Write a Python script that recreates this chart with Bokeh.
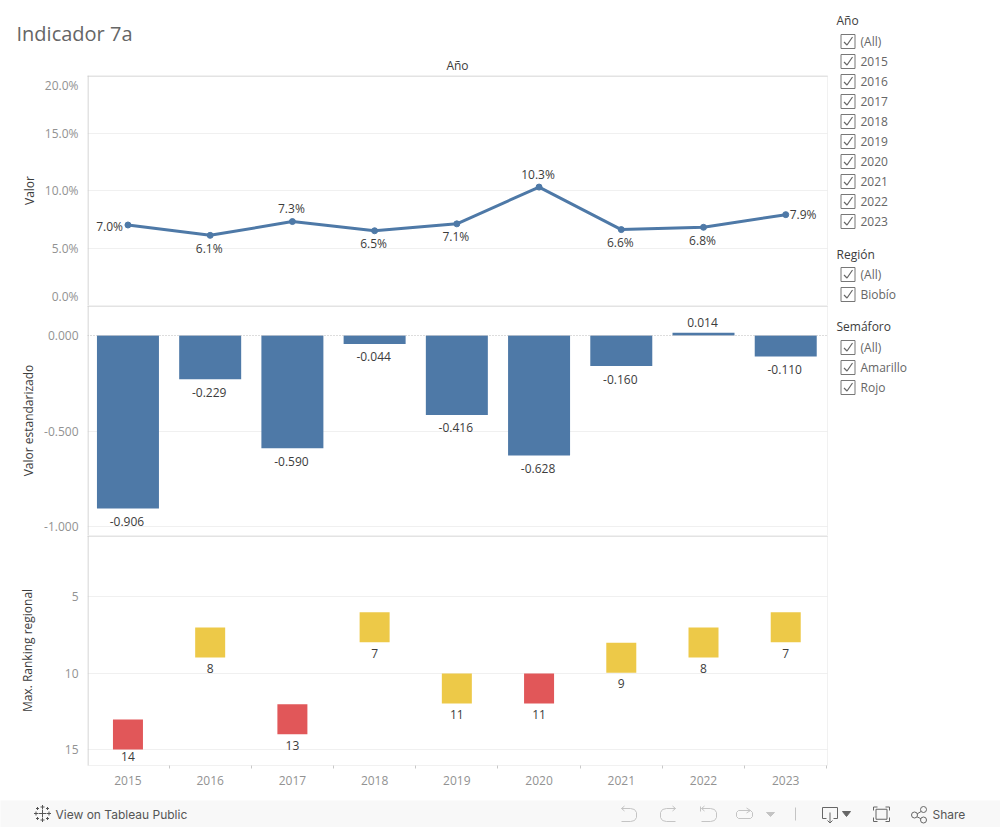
from bokeh.plotting import figure
from bokeh.layouts import column, row
from bokeh.models import (Range1d, FixedTicker, BoxAnnotation, Span, ColumnDataSource)
from bokeh.core.properties import value
from bokeh.embed import file_html
from bokeh.resources import INLINE

FONT = "Open Sans"
years = [2015, 2016, 2017, 2018, 2019, 2020, 2021, 2022, 2023]
valor = [7.0, 6.1, 7.3, 6.5, 7.1, 10.3, 6.6, 6.8, 7.9]
valor_label_side = ["left", "below", "above", "below", "below", "above", "below", "below", "right"]
estandarizado = [-0.906, -0.229, -0.590, -0.044, -0.416, -0.628, -0.160, 0.014, -0.110]
ranking = [14, 8, 13, 7, 11, 11, 9, 8, 7]
semaforo = ["Rojo", "Amarillo", "Rojo", "Amarillo", "Amarillo", "Rojo", "Amarillo", "Amarillo", "Amarillo"]
filters = [("Año", ["(All)", "2015", "2016", "2017", "2018", "2019", "2020", "2021", "2022", "2023"]),
           ("Región", ["(All)", "Biobío"]),
           ("Semáforo", ["(All)", "Amarillo", "Rojo"])]

BLUE, YELLOW, RED = "#4e79a7", "#edc948", "#e15759"
AXIS, GRID, TICK, INK = "#c8c8c8", "#f0f0f0", "#929292", "#3c3c3c"
FS = "12px"
x_range = Range1d(2014.508, 2023.508)


def panel(height, y_range, ticks, grid_ticks, label, standoff, bottom=0, fmt=None):
    p = figure(width=828, height=height, x_range=x_range, y_range=y_range,
               output_backend="svg", toolbar_location=None, x_axis_location="below" if bottom else None,
               min_border_left=87, min_border_right=1, min_border_top=0, min_border_bottom=bottom,
               background_fill_color="white", border_fill_color="white", outline_line_color=None)
    p.xgrid.visible = False
    p.ygrid.ticker = FixedTicker(ticks=grid_ticks)
    p.ygrid.grid_line_color = GRID
    ax = p.yaxis[0]
    ax.ticker = FixedTicker(ticks=ticks)
    ax.major_tick_line_color = None
    ax.minor_tick_line_color = None
    ax.axis_line_color = None
    ax.major_label_text_color = TICK
    ax.major_label_text_font = FONT
    ax.major_label_text_font_size = FS
    ax.major_label_standoff = 3
    ax.axis_label = label
    ax.axis_label_text_color = INK
    ax.axis_label_text_font = FONT
    ax.axis_label_text_font_size = "12px"
    ax.axis_label_text_font_style = "normal"
    ax.axis_label_standoff = standoff
    if fmt:
        ax.major_label_overrides = fmt
    return p


def box(p, left, right, top, bottom):
    p.add_layout(BoxAnnotation(left=left, right=right, top=top, bottom=bottom, left_units="canvas",
                               right_units="canvas", top_units="canvas", bottom_units="canvas", fill_color=AXIS,
                               fill_alpha=1, line_color=None, level="overlay"))


def frame_rules(p, last=False):
    box(p, 12, 828, 0, 1)
    if last:
        box(p, 12, 828, 230, 231)
    box(p, 87, 88, 0, 230)
    box(p, 827, 828, 0, 230)


# ---- header (page-pixel coordinates)
h = figure(width=828, height=75, x_range=Range1d(0, 828), y_range=Range1d(75, 0), output_backend="svg",
           toolbar_location=None, x_axis_location=None, y_axis_location=None, min_border=0,
           outline_line_color=None, background_fill_color="white", border_fill_color="white")
h.grid.visible = False
h.text([16], [33], text=["Indicador 7a"], text_baseline="middle", text_color="#666666", text_font=value(FONT),
       text_font_size=value("20px"))
h.text([457], [65], text=["Año"], text_align="center", text_baseline="middle", text_color=INK,
       text_font=value(FONT), text_font_size=value("12px"))

# ---- panel 1: Valor (the end labels sit inside the panel, as in Tableau)
pct = {19.13: "20.0%", 15: "15.0%", 10: "10.0%", 5: "5.0%", 0.74: "0.0%"}
p1 = panel(230, Range1d(0, 20), list(pct), [5, 10, 15], "Valor", 4, fmt=pct)
p1.line(years, valor, line_color=BLUE, line_width=3)
p1.scatter(years, valor, size=6, color=BLUE)
offs = {"above": (-1, -13, "center"), "below": (-1, 13, "center"), "left": (-5, 1, "right"), "right": (4, 0, "left")}
src1 = ColumnDataSource(dict(x=years, y=valor, t=[f"{v:.1f}%" for v in valor],
                             xo=[offs[s][0] for s in valor_label_side], yo=[offs[s][1] for s in valor_label_side],
                             a=[offs[s][2] for s in valor_label_side]))
p1.text("x", "y", text="t", source=src1, x_offset="xo", y_offset="yo", text_align="a", text_baseline="middle",
        text_color=INK, text_font=value(FONT), text_font_size=value(FS))
frame_rules(p1)

# ---- panel 2: Valor estandarizado
std_fmt = {0: "0.000", -0.5: "-0.500", -1: "-1.000"}
p2 = panel(230, Range1d(-1.047, 0.157), [-1, -0.5, 0], [-1, -0.5], "Valor estandarizado", 4, fmt=std_fmt)
p2.add_layout(Span(location=0, dimension="width", line_color="#bbbbbb", line_dash="1 2", line_width=1))
p2.vbar(x=years, top=estandarizado, bottom=0, width=0.754, fill_color=BLUE, line_color=None)
src2 = ColumnDataSource(dict(x=years, y=estandarizado, t=[f"{v:.3f}" for v in estandarizado],
                             yo=[-10 if v > 0 else 13 for v in estandarizado]))
p2.text("x", "y", text="t", source=src2, y_offset="yo", x_offset=-1, text_align="center", text_baseline="middle",
        text_color=INK, text_font=value(FONT), text_font_size=value(FS))
frame_rules(p2)

# ---- panel 3: Max. Ranking regional
p3 = panel(265, Range1d(16.02, 1.02), [5, 10, 15], [5, 10, 15], "Max. Ranking regional", 26, bottom=35)
colors = [RED if s == "Rojo" else YELLOW for s in semaforo]
p3.rect(years, ranking, width=30, height=30, width_units="screen", height_units="screen", fill_color=colors,
        line_color=None)
p3.text(years, ranking, text=[str(v) for v in ranking], y_offset=[22 if v >= 14 else 26 for v in ranking],
        text_align="center", text_baseline="middle",
        text_color=INK, text_font=value(FONT), text_font_size=value(FS))
xa = p3.xaxis[0]
xa.ticker = FixedTicker(ticks=years, minor_ticks=[y - 0.5 for y in years] + [years[-1] + 0.5])
xa.major_tick_line_color = None
xa.minor_tick_line_color = AXIS
xa.minor_tick_out = 3
xa.minor_tick_in = 0
xa.axis_line_color = None
xa.major_label_text_color = TICK
xa.major_label_text_font = FONT
xa.major_label_text_font_size = FS
xa.major_label_standoff = 4
frame_rules(p3, last=True)

# ---- filters panel (page-pixel coordinates)
f = figure(width=172, height=800, x_range=Range1d(828, 1000), y_range=Range1d(800, 0), output_backend="svg",
           toolbar_location=None, x_axis_location=None, y_axis_location=None, min_border=0,
           outline_line_color=None, background_fill_color="white", border_fill_color="white")
f.grid.visible = False
tx, ty, tc, bx, by, cx, cy = [], [], [], [], [], [], []
title_x, title_y, title_t = [], [], []
row_y = {"Año": 20, "Región": 254, "Semáforo": 326}
for name, items in filters:
    y = row_y[name]
    title_x.append(836); title_y.append(y); title_t.append(name)
    y += 1 if name != "Región" else 0
    for it in items:
        y += 20
        tx.append(860); ty.append(y); tc.append(it)
        bx.append(847.5); by.append(y)
        cx.append([843.5, 846.5, 852]); cy.append([y + 0.5, y + 3.5, y - 4.5])
f.text(title_x, title_y, text=title_t, text_baseline="middle", text_color=INK, text_font=value(FONT),
       text_font_size=value("12px"))
f.rect(bx, by, width=14, height=14, width_units="screen", height_units="screen", fill_color="white",
       line_color="#777777", line_width=1)
f.multi_line(cx, cy, line_color="#666666", line_width=1.2)
f.text(tx, ty, text=tc, text_baseline="middle", text_color="#666666", text_font=value(FONT),
       text_font_size=value("12px"))

# ---- footer (page-pixel coordinates)
b = figure(width=1000, height=27, x_range=Range1d(0, 1000), y_range=Range1d(827, 800), output_backend="svg",
           toolbar_location=None, x_axis_location=None, y_axis_location=None, min_border=0,
           outline_line_color=None, background_fill_color="#f8f8f8", border_fill_color="#f8f8f8")
b.grid.visible = False
b.text([55], [813.5], text=["View on Tableau Public"], text_baseline="middle", text_color="#555555",
       text_font=value("Inter"), text_font_size=value("12px"), text_font_style="normal")
b.text([932], [813.5], text=["Share"], text_baseline="middle", text_color="#555555",
       text_font=value("Inter"), text_font_size=value("12px"))
# Tableau logo
lx, ly = [], []
for (cxx, cyy, r) in [(42, 813, 4), (35.5, 813, 2), (48.5, 813, 2), (42, 806.5, 2), (42, 819.5, 2),
                      (37, 808, 1.5), (47, 808, 1.5), (37, 818, 1.5), (47, 818, 1.5)]:
    lx += [[cxx - r, cxx + r], [cxx, cxx]]
    ly += [[cyy, cyy], [cyy - r, cyy + r]]
b.multi_line(lx, ly, line_color="#555555", line_width=1)
# toolbar icons
dis = "#c4c4c4"
undo = ([621, 630, 634, 636, 636, 634, 630, 621], [808, 808, 809, 812, 817, 820, 821, 821])
redo = ([675 - (v - 621) for v in undo[0]], undo[1])
rev = ([v + 80 for v in undo[0]], undo[1])
icons_x = [undo[0], [621, 624], [621, 624], redo[0], [675, 672], [675, 672], rev[0], [701, 704], [701, 704], [700, 700],
           [738, 750, 752, 752, 750, 738, 736, 736, 738], [746, 750, 746], [795, 795]]
icons_y = [undo[1], [808, 805.5], [808, 810.5], redo[1], [808, 805.5], [808, 810.5], rev[1], [808, 805.5], [808, 810.5],
           [806, 811], [810, 810, 812, 816, 818, 818, 816, 812, 810], [807.5, 810, 812.5], [807, 820]]
b.multi_line(icons_x, icons_y, line_color=dis, line_width=1)
b.patch([766, 774, 770], [812, 812, 816], color=dis)
dk = "#666666"
dx = [[826, 822, 822, 837, 837, 833], [829.5, 829.5], [827, 829.5, 832],
      [873, 873, 877], [885, 889, 889], [889, 889, 885], [877, 873, 873]]
dy = [[818, 818, 807, 807, 818, 818], [812, 822], [820, 822.5, 820],
      [810, 806.5, 806.5], [806.5, 806.5, 810], [817, 821, 821], [821, 821, 817]]
b.multi_line(dx, dy, line_color=dk, line_width=1)
b.patch([842, 850, 846], [811, 811, 816], color=dk)
b.rect([881], [813.75], width=11, height=10, width_units="screen", height_units="screen", fill_color=None,
       line_color=dk)
b.multi_line([[914, 923], [914, 923]], [[815, 809.5], [815, 819.5]], line_color=dk, line_width=1)
b.scatter([914, 923, 923], [814.5, 809, 819.5], size=6, fill_color="#f8f8f8", line_color=dk)

left = column(row(h), column(p1, p2, p3, spacing=0), spacing=0)
root = column(row(left, f, spacing=0), b, spacing=0,
              styles={"position": "absolute", "left": "0px", "top": "0px"})
open("out.html", "w").write(file_html(root, INLINE))
